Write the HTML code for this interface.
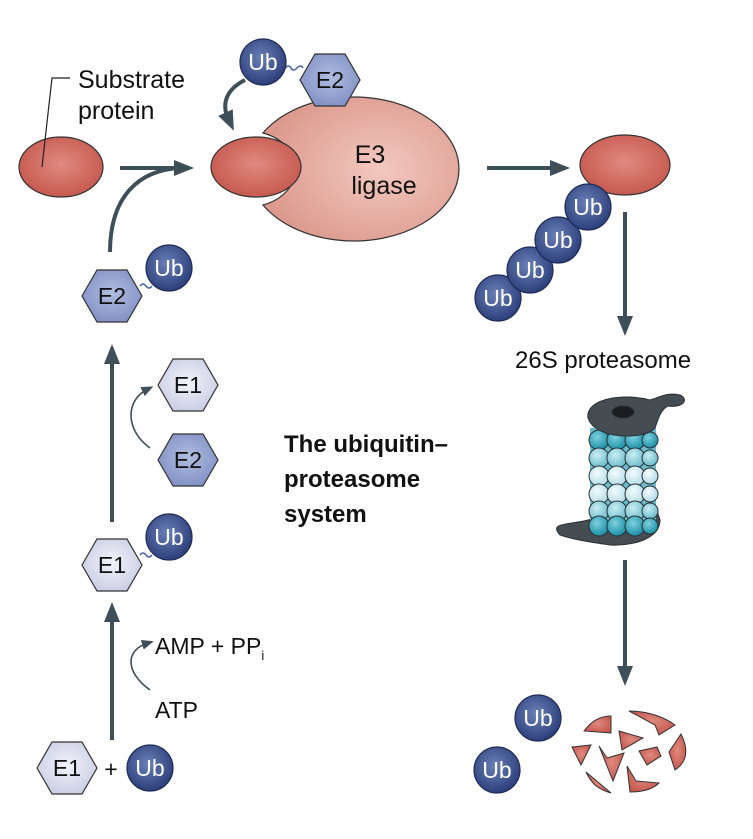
<!DOCTYPE html>
<html><head><meta charset="utf-8"><style>html,body{margin:0;padding:0;background:#fff}svg{display:block}text{font-family:"Liberation Sans","DejaVu Sans",sans-serif}</style></head>
<body>
<svg width="753" height="839" viewBox="0 0 753 839" xmlns="http://www.w3.org/2000/svg">
<defs>
<radialGradient id="red" cx="50%" cy="45%" r="60%"><stop offset="0" stop-color="#e08a80"/><stop offset="1" stop-color="#c4554b"/></radialGradient>
<radialGradient id="e3" cx="60%" cy="50%" r="60%"><stop offset="0" stop-color="#f3c8bf"/><stop offset="1" stop-color="#dc9a8e"/></radialGradient>
<radialGradient id="ub" cx="45%" cy="40%" r="60%"><stop offset="0" stop-color="#6a7fb8"/><stop offset="1" stop-color="#2c3f7a"/></radialGradient>
<radialGradient id="e2" cx="50%" cy="45%" r="60%"><stop offset="0" stop-color="#b0bde0"/><stop offset="1" stop-color="#7f8fc3"/></radialGradient>
<radialGradient id="e1" cx="50%" cy="45%" r="60%"><stop offset="0" stop-color="#f2f3fa"/><stop offset="1" stop-color="#c8cce3"/></radialGradient>
<radialGradient id="b1" cx="40%" cy="35%" r="65%"><stop offset="0" stop-color="#7fd0dd"/><stop offset="1" stop-color="#1a8fa6"/></radialGradient>
<radialGradient id="b2" cx="40%" cy="35%" r="65%"><stop offset="0" stop-color="#c9edf3"/><stop offset="1" stop-color="#6bbccc"/></radialGradient>
<radialGradient id="b3" cx="40%" cy="35%" r="65%"><stop offset="0" stop-color="#f4fbfd"/><stop offset="1" stop-color="#b2dde6"/></radialGradient>
<marker id="ah" markerWidth="12" markerHeight="12" refX="6" refY="6" orient="auto" markerUnits="userSpaceOnUse"><path d="M0,1 L12,6 L0,11 Z" fill="#3e4f5a"/></marker>
<marker id="ahs" markerWidth="20" markerHeight="18" refX="6" refY="9" orient="auto" markerUnits="userSpaceOnUse"><path d="M0,1 L20,9 L0,17 Z" fill="#3e4f5a"/></marker>
</defs>
<g stroke="#3e4f5a" stroke-width="4" fill="none">
<line x1="120" y1="168" x2="180" y2="168" marker-end="url(#ahs)"/>
<path d="M110,252 C110,195 140,170 180,168"/>
<path d="M245,80 C225,90 222,105 228,118" marker-end="url(#ahs)"/>
<line x1="487" y1="168" x2="556" y2="168" marker-end="url(#ahs)"/>
<line x1="625" y1="212" x2="625" y2="322" marker-end="url(#ahs)"/>
<line x1="625" y1="560" x2="625" y2="672" marker-end="url(#ahs)"/>
<line x1="112" y1="522" x2="112" y2="358" marker-end="url(#ahs)"/>
<line x1="112" y1="740" x2="112" y2="616" marker-end="url(#ahs)"/>
</g>
<g stroke="#3e4f5a" stroke-width="1.6" fill="none">
<path d="M150,448 C125,430 125,400 148,389" marker-end="url(#ah)"/>
<path d="M150,690 C125,672 125,650 148,643" marker-end="url(#ah)"/>
</g>
<!-- E3 -->
<path d="M263,133 A105,72 0 1 1 263,205 A48,38 0 0 0 263,133 Z" fill="url(#e3)" stroke="#333" stroke-width="1.2"/>
<ellipse cx="61" cy="167" rx="42" ry="30" fill="url(#red)" stroke="#333" stroke-width="1.2"/>
<polyline points="42,167 52,78 70,78" stroke="#222" stroke-width="1.2" fill="none"/>
<ellipse cx="256" cy="167" rx="45" ry="30" fill="url(#red)" stroke="#333" stroke-width="1.2"/>
<ellipse cx="625" cy="165" rx="45" ry="30" fill="url(#red)" stroke="#333" stroke-width="1.2"/>
<text x="370" y="163" font-size="25" text-anchor="middle" fill="#111">E3</text>
<text x="384" y="194" font-size="25" text-anchor="middle" fill="#111">ligase</text>
<text x="78" y="88" font-size="25" fill="#111">Substrate</text>
<text x="78" y="119" font-size="25" fill="#111">protein</text>
<!-- squiggles -->
<g stroke="#4a63a8" stroke-width="1.5" fill="none">
<path d="M285,68 q4,-4 6,0 t6,0 t6,0"/>
<path d="M140,286 q3,-4 6,0 t6,0"/>
<path d="M140,555 q3,-4 6,0 t6,0"/>
</g>
<!-- hexes -->
<g stroke="#333" stroke-width="1.2">
<polygon points="300,80 315,54 345,54 360,80 345,106 315,106" fill="url(#e2)"/>
<polygon points="82,296 97,270 127,270 142,296 127,322 97,322" fill="url(#e2)"/>
<polygon points="158,385 173,359 203,359 218,385 203,411 173,411" fill="url(#e1)"/>
<polygon points="158,460 173,434 203,434 218,460 203,486 173,486" fill="url(#e2)"/>
<polygon points="82,565 97,539 127,539 142,565 127,591 97,591" fill="url(#e1)"/>
<polygon points="37,768 52,742 82,742 97,768 82,794 52,794" fill="url(#e1)"/>
</g>
<g font-size="23" text-anchor="middle" fill="#111">
<text x="330" y="88">E2</text>
<text x="112" y="304">E2</text>
<text x="188" y="393">E1</text>
<text x="188" y="468">E2</text>
<text x="112" y="573">E1</text>
<text x="67" y="776">E1</text>
<text x="111" y="777">+</text>
</g>
<!-- Ubs -->
<g stroke="#1f2b55" stroke-width="1.2" fill="url(#ub)">
<circle cx="263" cy="62" r="23"/>
<circle cx="169" cy="268" r="23"/>
<circle cx="169" cy="537" r="23"/>
<circle cx="150" cy="768" r="23"/>
<circle cx="498" cy="298" r="23"/>
<circle cx="530" cy="270" r="23"/>
<circle cx="558" cy="240" r="23"/>
<circle cx="588" cy="207" r="23"/>
<circle cx="538" cy="718" r="23"/>
<circle cx="497" cy="770" r="23"/>
</g>
<g font-size="23" text-anchor="middle" fill="#fff">
<text x="263" y="70">Ub</text>
<text x="169" y="276">Ub</text>
<text x="169" y="545">Ub</text>
<text x="150" y="776">Ub</text>
<text x="498" y="306">Ub</text>
<text x="530" y="278">Ub</text>
<text x="558" y="248">Ub</text>
<text x="588" y="215">Ub</text>
<text x="538" y="726">Ub</text>
<text x="497" y="778">Ub</text>
</g>
<text x="155" y="654" font-size="23" fill="#111">AMP + PP<tspan font-size="13" dy="6">i</tspan></text>
<text x="155" y="718" font-size="23" fill="#111">ATP</text>
<g font-size="24" font-weight="bold" fill="#111">
<text x="284" y="452">The ubiquitin–</text>
<text x="284" y="487">proteasome</text>
<text x="284" y="522">system</text>
</g>
<text x="515" y="368" font-size="24" fill="#111">26S proteasome</text>
<!-- proteasome -->
<g stroke="#2a3035">
<path d="M588,520 C570,525 548,522 560,535 C575,540 590,542 610,545 C635,546 660,538 660,520 L655,505 Z" fill="#454c52"/>
<rect x="590" y="428" width="66" height="100" fill="#6bbccc" stroke="none"/>
<g stroke-width="1">
<g fill="url(#b1)"><circle cx="599" cy="440" r="10"/><circle cx="617" cy="440" r="10"/><circle cx="635" cy="440" r="10"/><circle cx="650" cy="440" r="8"/></g>
<g fill="url(#b2)"><circle cx="599" cy="458" r="10"/><circle cx="617" cy="458" r="10"/><circle cx="635" cy="458" r="10"/><circle cx="650" cy="458" r="8"/></g>
<g fill="url(#b3)"><circle cx="599" cy="476" r="10"/><circle cx="617" cy="476" r="10"/><circle cx="635" cy="476" r="10"/><circle cx="650" cy="476" r="8"/></g>
<g fill="url(#b3)"><circle cx="599" cy="494" r="10"/><circle cx="617" cy="494" r="10"/><circle cx="635" cy="494" r="10"/><circle cx="650" cy="494" r="8"/></g>
<g fill="url(#b2)"><circle cx="599" cy="511" r="10"/><circle cx="617" cy="511" r="10"/><circle cx="635" cy="511" r="10"/><circle cx="650" cy="511" r="8"/></g>
<g fill="url(#b1)"><circle cx="599" cy="526" r="10"/><circle cx="617" cy="526" r="10"/><circle cx="635" cy="526" r="10"/><circle cx="650" cy="526" r="8"/></g>
</g>
<path d="M588,418 C585,398 625,393 650,400 C660,397 668,392 680,395 C690,400 682,408 668,406 C660,410 658,420 655,428 C645,440 595,440 588,418 Z" fill="#454c52"/>
<ellipse cx="623" cy="412" rx="11" ry="6" fill="#1a1e22"/>
</g>
<!-- fragments -->
<g fill="url(#red)" stroke="#333" stroke-width="1">
<path d="M584,731 C592,720 602,716 611,716 L611,733 Z"/>
<path d="M629,711 C648,711 664,717 675,725 L659,735 L655,725 Z"/>
<path d="M619,731 L643,738 L622,750 Z"/>
<path d="M572,747 L591,745 L581,765 Z"/>
<path d="M599,746 L607,758 L624,753 L613,781 Z"/>
<path d="M639,751 L657,747 L661,756 L647,765 Z"/>
<path d="M681,734 C689,750 687,762 675,770 L669,752 Z"/>
<path d="M586,772 C592,785 600,790 611,793 Z"/>
<path d="M627,766 L636,781 L659,783 C652,790 642,792 630,792 Z"/>
</g>
</svg>
</body></html>
